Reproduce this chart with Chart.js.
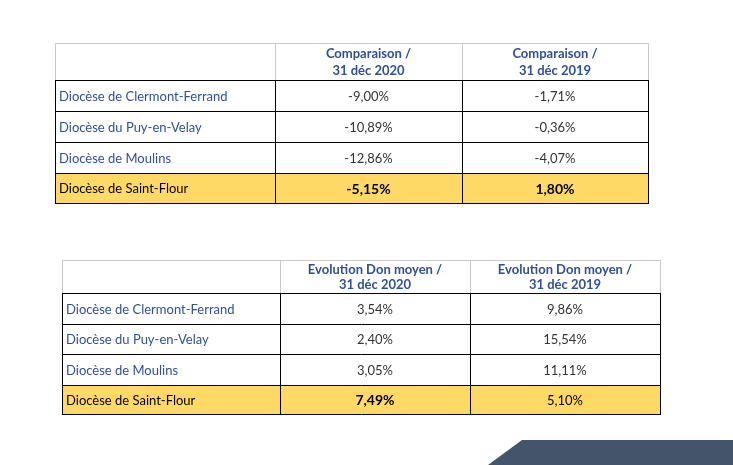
<!DOCTYPE html>
<html>
<head>
<meta charset="utf-8">
<script src="https://cdn.jsdelivr.net/npm/chart.js@4"></script>
<style>
  body { margin: 0; background: #fff; }
  #wrap { width: 733px; height: 465px; }
</style>
</head>
<body>
<div id="wrap"><canvas id="tables"></canvas></div>
<script>
// ==================== DATA ====================
const dioceses = [
  "Diocèse de Clermont-Ferrand",
  "Diocèse du Puy-en-Velay",
  "Diocèse de Moulins",
  "Diocèse de Saint-Flour"
];
const headers1 = [["Comparaison /", "31 déc 2020"], ["Comparaison /", "31 déc 2019"]];
const vs2020 = ["-9,00%", "-10,89%", "-12,86%", "-5,15%"];
const vs2019 = ["-1,71%", "-0,36%", "-4,07%", "1,80%"];

const headers2 = [["Evolution Don moyen /", "31 déc 2020"], ["Evolution Don moyen /", "31 déc 2019"]];
const don2020 = ["3,54%", "2,40%", "3,05%", "7,49%"];
const don2019 = ["9,86%", "15,54%", "11,11%", "5,10%"];

// ==================== LAYOUT ====================
const tables = [
  { cols: [55, 275, 462, 648], rows: [43, 80, 111, 142, 173, 203],
    headers: headers1, values: [vs2020, vs2019], bold: [true, true] },
  { cols: [62, 280, 470, 660], rows: [260, 293, 324, 354, 385, 414],
    headers: headers2, values: [don2020, don2019], bold: [true, false] }
];

const FONT = "Lato, 'Open Sans', sans-serif";
const BLUE = "#2f4f9a";

const tablePlugin = {
  id: "tablePlugin",
  afterDraw(chart) {
    const c = chart.ctx, xs = chart.scales.x, ys = chart.scales.y;
    const px = v => xs.getPixelForValue(v), py = v => ys.getPixelForValue(v);
    c.save();
    tables.forEach(t => {
      const L = px(t.cols[0]), R = px(t.cols[3]);
      // highlight row
      c.fillStyle = "#ffd966";
      c.fillRect(L, py(t.rows[4]), R - L, py(t.rows[5]) - py(t.rows[4]));
      // header box (light gray)
      c.strokeStyle = "#c8c8c8"; c.lineWidth = 1;
      c.strokeRect(L + 0.5, py(t.rows[0]) + 0.5, R - L, py(t.rows[1]) - py(t.rows[0]));
      c.beginPath();
      [1, 2].forEach(i => { c.moveTo(px(t.cols[i]) + 0.5, py(t.rows[0])); c.lineTo(px(t.cols[i]) + 0.5, py(t.rows[1])); });
      c.stroke();
      // data grid (black)
      c.strokeStyle = "#000"; c.beginPath();
      for (let r = 1; r <= 5; r++) { c.moveTo(L, py(t.rows[r]) + 0.5); c.lineTo(R + 1, py(t.rows[r]) + 0.5); }
      t.cols.forEach(x => { c.moveTo(px(x) + 0.5, py(t.rows[1])); c.lineTo(px(x) + 0.5, py(t.rows[5])); });
      c.stroke();
      // headers
      c.fillStyle = BLUE; c.textAlign = "center"; c.textBaseline = "middle";
      c.font = "bold 13px " + FONT;
      t.headers.forEach((h, i) => {
        const cx = (px(t.cols[i + 1]) + px(t.cols[i + 2])) / 2;
        const top = py(t.rows[0]), hh = py(t.rows[1]) - top;
        c.fillText(h[0], cx, top + hh * 0.3);
        c.fillText(h[1], cx, top + hh * 0.75);
      });
      // rows
      dioceses.forEach((d, r) => {
        const cy = (py(t.rows[r + 1]) + py(t.rows[r + 2])) / 2 + 1;
        const last = r === dioceses.length - 1;
        c.textAlign = "left";
        c.font = "13px " + FONT;
        c.fillStyle = last ? "#000" : BLUE;
        c.fillText(d, px(t.cols[0]) + 4, cy);
        c.textAlign = "center";
        t.values.forEach((vals, i) => {
          const cx = (px(t.cols[i + 1]) + px(t.cols[i + 2])) / 2;
          c.font = (last && t.bold[i] ? "bold 14px " : "13px ") + FONT;
          c.fillStyle = last ? "#000" : "#333";
          c.fillText(vals[r], cx, cy);
        });
      });
    });
    // decorative corner shape
    c.fillStyle = "#44546a";
    c.beginPath();
    c.moveTo(px(488), py(465)); c.lineTo(px(522), py(440));
    c.lineTo(px(733), py(440)); c.lineTo(px(733), py(465));
    c.closePath(); c.fill();
    c.restore();
  }
};

new Chart(document.getElementById("tables"), {
  type: "scatter",
  data: { datasets: [{ data: [] }] },
  options: {
    responsive: true, maintainAspectRatio: false, animation: false,
    layout: { padding: 0 },
    plugins: { legend: { display: false }, tooltip: { enabled: false } },
    scales: {
      x: { type: "linear", min: 0, max: 733, display: false },
      y: { type: "linear", min: 0, max: 465, reverse: true, display: false }
    }
  },
  plugins: [tablePlugin]
});
</script>
</body>
</html>
